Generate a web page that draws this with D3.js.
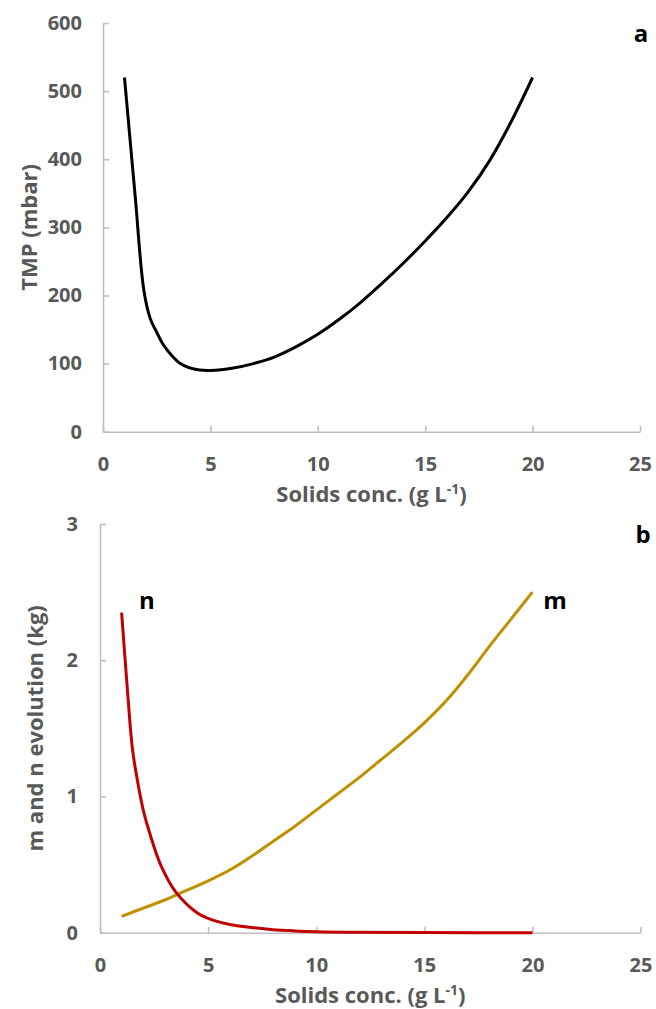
<!DOCTYPE html>
<html>
<head>
<meta charset="utf-8">
<script src="https://cdn.jsdelivr.net/npm/d3@7"></script>
<style>
  body { margin: 0; background: #fff; }
  svg { display: block; }
  .tick text { font-family: "Open Sans", sans-serif; font-weight: 700; font-size: 20px; fill: #595959; }
  .domain, .tick line { stroke: #BFBFBF; stroke-width: 1.6px; }
  .title { font-family: "Open Sans", sans-serif; font-weight: 700; font-size: 22px; fill: #595959; }
  .lab { font-family: "Open Sans", sans-serif; font-weight: 700; font-size: 24px; fill: #000; }
</style>
</head>
<body>
<svg id="chart" width="656" height="1009"></svg>
<script>
// ---- Panel a: TMP vs solids concentration ----
const tmpX = [1, 1.5, 1.9, 2.2, 2.5, 2.8, 3.2, 3.6, 4, 4.5, 5, 5.5, 6, 7, 8, 9, 10, 11, 12, 13, 14, 15, 16, 17, 18, 19, 20];
const tmpY = [520, 345, 208, 166, 146, 128, 112, 100, 94, 90.5, 90, 91, 93, 100, 110, 125, 143, 165, 190, 218, 248, 280, 314, 352, 398, 455, 520];
const tmpTicks = [0, 100, 200, 300, 400, 500, 600];

// ---- Panel b: m and n evolution ----
const nX = [1, 1.25, 1.5, 1.75, 2, 2.3, 2.8, 3.5, 4.5, 5, 6, 7, 8, 9, 10, 12, 15, 20];
const nY = [2.35, 1.82, 1.35, 1.10, 0.90, 0.73, 0.50, 0.30, 0.145, 0.105, 0.06, 0.038, 0.022, 0.013, 0.007, 0.003, 0.001, 0];
const mX = [1, 2, 3, 4, 5, 6, 7, 8, 9, 10, 11, 12, 13, 14, 15, 16, 17, 18, 19, 20];
const mY = [0.12, 0.18, 0.24, 0.31, 0.38, 0.46, 0.56, 0.67, 0.78, 0.90, 1.02, 1.14, 1.27, 1.40, 1.54, 1.70, 1.89, 2.10, 2.30, 2.50];
const kgTicks = [0, 1, 2, 3];

const xTicks = [0, 5, 10, 15, 20, 25];
const xTitle = "Solids conc. (g L";

const svg = d3.select("#chart");

function panel(cfg) {
  const x = d3.scaleLinear().domain([0, 25]).range([cfg.left, cfg.right]);
  const y = d3.scaleLinear().domain(cfg.yDomain).range([cfg.bottom, cfg.top]);
  const g = svg.append("g");

  g.append("g")
    .attr("transform", `translate(0,${cfg.bottom})`)
    .call(d3.axisBottom(x).tickValues(xTicks).tickFormat(d3.format("d")).tickSize(-6).tickSizeOuter(0).tickPadding(25));
  g.append("g")
    .attr("transform", `translate(${cfg.left},0)`)
    .call(d3.axisLeft(y).tickValues(cfg.yTicks).tickFormat(d3.format("d")).tickSize(-6).tickSizeOuter(0).tickPadding(cfg.yPad));

  const line = d3.line().x(d => x(d[0])).y(d => y(d[1])).curve(d3.curveCatmullRom.alpha(0.5));
  cfg.series.forEach(s => {
    g.append("path")
      .datum(s.xs.map((v, i) => [v, s.ys[i]]))
      .attr("fill", "none")
      .attr("stroke", s.color)
      .attr("stroke-width", 3)
      .attr("stroke-linejoin", "round")
      .attr("d", line);
  });

  // x title with superscript
  const t = g.append("text").attr("class", "title")
    .attr("x", (cfg.left + cfg.right) / 2).attr("y", cfg.bottom + 70)
    .attr("text-anchor", "middle");
  t.append("tspan").text(xTitle);
  t.append("tspan").attr("dy", -8).attr("font-size", "14px").text("-1");
  t.append("tspan").attr("dy", 8).text(")");

  g.append("text").attr("class", "title")
    .attr("transform", `translate(${cfg.yTitleX},${(cfg.top + cfg.bottom) / 2}) rotate(-90)`)
    .attr("text-anchor", "middle")
    .text(cfg.yTitle);

  cfg.labels.forEach(l => {
    g.append("text").attr("class", "lab")
      .attr("x", l.x).attr("y", l.y).attr("text-anchor", "middle").text(l.t);
  });
  return { x, y };
}

panel({
  left: 103, right: 640, top: 23, bottom: 431.7,
  yDomain: [0, 600], yTicks: tmpTicks, yPad: 21,
  yTitle: "TMP (mbar)", yTitleX: 37,
  series: [{ xs: tmpX, ys: tmpY, color: "#000000" }],
  labels: [{ t: "a", x: 641, y: 41.5 }]
});

panel({
  left: 100, right: 640.5, top: 524, bottom: 932.7,
  yDomain: [0, 3], yTicks: kgTicks, yPad: 22,
  yTitle: "m and n evolution (kg)", yTitleX: 43,
  series: [
    { xs: mX, ys: mY, color: "#BF9000" },
    { xs: nX, ys: nY, color: "#C00000" }
  ],
  labels: [{ t: "b", x: 643, y: 543 }, { t: "n", x: 147, y: 609 }, { t: "m", x: 555, y: 609 }]
});
</script>
</body>
</html>
